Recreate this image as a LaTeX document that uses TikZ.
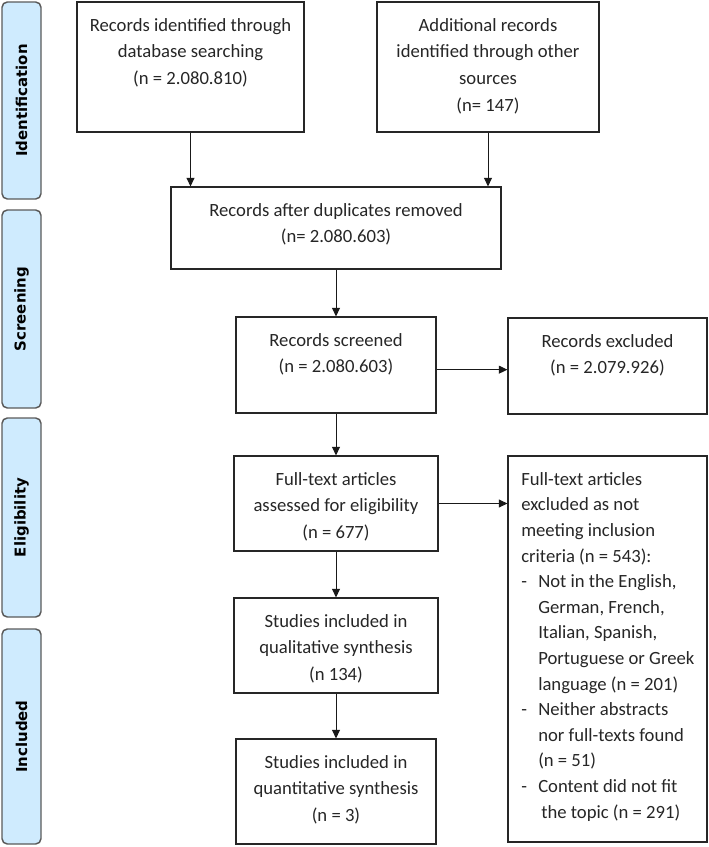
\documentclass[tikz,border=0pt]{standalone}
\usepackage{fontspec}
\setmainfont{Carlito}
\newfontfamily\sidefont{DejaVu Sans}
\usetikzlibrary{arrows.meta,fit}
\definecolor{sidefill}{HTML}{CFEBFE}
\definecolor{sideedge}{HTML}{5A5A5A}
\newcommand{\dsh}{\makebox[12.75pt][l]{-}}
\begin{document}
\begin{tikzpicture}[x=0.75pt,y=-0.75pt,
  box/.style={draw=black!85,line width=0.85pt,inner sep=0pt},
  txt/.style={inner sep=0pt,align=center,anchor=north,font=\fontsize{14pt}{20pt}\selectfont,text=black!85},
  ltxt/.style={inner sep=0pt,align=left,anchor=north west,font=\fontsize{14pt}{19.2pt}\selectfont,text=black!85},
  side/.style={draw=sideedge,fill=sidefill,line width=1.1pt,rounded corners=4pt,inner sep=0pt},
  sidelbl/.style={rotate=90,inner sep=0pt,font=\sidefont\bfseries\fontsize{11.2pt}{13pt}\selectfont},
  arr/.style={-{Triangle[length=6.5pt,width=6pt]},line width=0.75pt,draw=black!90}]
\useasboundingbox (0,0) rectangle (709,847);

% side bars
\node[side,fit={(2,2) (41,199)}] (s1) {};
\node[sidelbl] (l1) at (s1.center) {Identification};
\node[side,fit={(2,210) (41,408)}] (s2) {};
\node[sidelbl] (l2) at (s2.center) {Screening};
\node[side,fit={(2,418) (41,617)}] (s3) {};
\node[sidelbl] (l3) at (s3.center) {Eligibility};
\node[side,fit={(2,629) (41,844)}] (s4) {};
\node[sidelbl] (l4) at (s4.center) {Included};

% boxes
\node[box,fit={(77,2) (304,132)}] (b1) {};
\node[txt] (t1) at (190.5,18) {Records identified through\\database searching\\(n = 2.080.810)};
\node[box,fit={(377,2) (599,132)}] (b2) {};
\node[txt] (t2) at (488,18) {Additional records\\identified through other\\sources\\(n= 147)};
\node[box,fit={(171,187) (501,269)}] (b3) {};
\node[txt] (t3) at (336,203) {Records after duplicates removed\\(n= 2.080.603)};
\node[box,fit={(236,317) (436,413)}] (b4) {};
\node[txt] (t4) at (336,333) {Records screened\\(n = 2.080.603)};
\node[box,fit={(508,318) (707,414)}] (b5) {};
\node[txt] (t5) at (607.5,334) {Records excluded\\(n = 2.079.926)};
\node[box,fit={(234,456) (438,551)}] (b6) {};
\node[txt] (t6) at (336,472) {Full-text articles\\assessed for eligibility\\(n = 677)};
\node[box,fit={(508,456) (707,842)}] (b7) {};
\node[ltxt] (t7) at (521,472) {Full-text articles\\
excluded as not\\
meeting inclusion\\
criteria (n = 543):\\
\dsh Not in the English,\\
\hspace*{12.75pt}German, French,\\
\hspace*{12.75pt}Italian, Spanish,\\
\hspace*{12.75pt}Portuguese or Greek\\
\hspace*{12.75pt}language (n = 201)\\
\dsh Neither abstracts\\
\hspace*{12.75pt}nor full-texts found\\
\hspace*{12.75pt}(n = 51)\\
\dsh Content did not fit\\
\hspace*{15pt}the topic (n = 291)};
\node[box,fit={(234,598) (438,693)}] (b8) {};
\node[txt] (t8) at (336,614) {Studies included in\\qualitative synthesis\\(n 134)};
\node[box,fit={(236,739) (436,844)}] (b9) {};
\node[txt] (t9) at (336,755) {Studies included in\\quantitative synthesis\\(n = 3)};

% connectors
\draw[arr] (b1.south) -- (b1.south |- b3.north);
\draw[arr] (b2.south) -- (b2.south |- b3.north);
\draw[arr] (b3.south) -- (b4.north);
\coordinate (a1) at ([yshift=-3.5pt]b4.east);
\draw[arr] (a1) -- (a1 -| b5.west);
\draw[arr] (b4.south) -- (b6.north);
\draw[arr] (b6.east) -- (b6.east -| b7.west);
\draw[arr] (b6.south) -- (b8.north);
\draw[arr] (b8.south) -- (b9.north);
\end{tikzpicture}
\end{document}
